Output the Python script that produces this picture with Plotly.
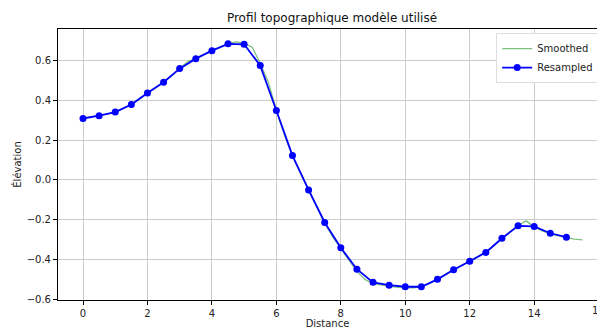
import plotly.graph_objects as go

# Smoothed profile (dense) and resampled profile (every 0.5)
smooth_x = [0, 0.25, 0.5, 0.75, 1.0, 1.25, 1.5, 1.75, 2.0, 2.25, 2.5, 2.75, 3.0, 3.25,
            3.5, 3.75, 4.0, 4.25, 4.5, 4.75, 5.0, 5.25, 5.5, 5.75, 6.0, 6.25, 6.5, 6.75,
            7.0, 7.25, 7.5, 7.75, 8.0, 8.25, 8.5, 8.75, 9.0, 9.25, 9.5, 9.75, 10.0, 10.25,
            10.5, 10.75, 11.0, 11.25, 11.5, 11.75, 12.0, 12.25, 12.5, 12.75, 13.0, 13.25,
            13.5, 13.75, 14.0, 14.25, 14.5, 14.75, 15.0, 15.25, 15.5]
smooth_y = [0.31, 0.316, 0.322, 0.33, 0.34, 0.357, 0.378, 0.405, 0.435, 0.462, 0.49, 0.522,
            0.56, 0.592, 0.61, 0.628, 0.648, 0.665, 0.683, 0.692, 0.686, 0.665, 0.585, 0.49,
            0.35, 0.225, 0.12, 0.035, -0.05, -0.135, -0.215, -0.285, -0.345, -0.402, -0.458,
            -0.498, -0.52, -0.527, -0.532, -0.538, -0.54, -0.54, -0.536, -0.518, -0.498,
            -0.473, -0.45, -0.428, -0.408, -0.385, -0.362, -0.33, -0.295, -0.26, -0.228,
            -0.205, -0.235, -0.255, -0.27, -0.28, -0.29, -0.297, -0.3]

res_x = [0, 0.5, 1.0, 1.5, 2.0, 2.5, 3.0, 3.5, 4.0, 4.5, 5.0, 5.5, 6.0, 6.5, 7.0, 7.5,
         8.0, 8.5, 9.0, 9.5, 10.0, 10.5, 11.0, 11.5, 12.0, 12.5, 13.0, 13.5, 14.0, 14.5, 15.0]
res_y = [0.308, 0.322, 0.34, 0.378, 0.436, 0.49, 0.558, 0.608, 0.648, 0.682, 0.68, 0.573,
         0.348, 0.122, -0.05, -0.213, -0.34, -0.447, -0.513, -0.527, -0.535, -0.535,
         -0.498, -0.45, -0.407, -0.363, -0.292, -0.23, -0.233, -0.267, -0.287]

x_range = [-0.776, 15.95]
y_range = [-0.6015, 0.7565]

fig = go.Figure()
fig.add_trace(go.Scatter(x=smooth_x, y=smooth_y, mode="lines", name="Smoothed",
                         line=dict(color="rgba(0,128,0,0.5)", width=1.3)))
fig.add_trace(go.Scatter(x=res_x, y=res_y, mode="lines+markers", name="Resampled",
                         line=dict(color="#0000ff", width=1.8),
                         marker=dict(color="#0000ff", size=7)))

axis_style = dict(showline=True, linecolor="black", linewidth=1, ticks="outside",
                  ticklen=4, tickcolor="black", showgrid=True, gridcolor="#cccccc",
                  gridwidth=1, zeroline=False, tickfont=dict(size=10, color="#222"))

fig.update_layout(
    width=597, height=329,
    margin=dict(l=58, r=0, t=29, b=29, autoexpand=False),
    paper_bgcolor="white", plot_bgcolor="white",
    font=dict(family="DejaVu Sans", color="#222"),
    title=dict(text="Profil topographique modèle utilisé", x=332 / 597, xref="container",
               xanchor="center", y=1 - 18 / 329, yanchor="middle",
               font=dict(size=12, color="#111")),
    xaxis=dict(range=x_range, dtick=2, mirror=True,
               title=dict(text="Distance", font=dict(size=10), standoff=2), **axis_style),
    yaxis=dict(range=y_range, dtick=0.2, tickformat=".1f",
               title=dict(text="Élévation", font=dict(size=10), standoff=3), **axis_style),
    legend=dict(x=0.813, y=0.985, xanchor="left", yanchor="top", bgcolor="white",
                bordercolor="#dddddd", borderwidth=1, font=dict(size=10),
                tracegroupgap=0, itemwidth=30),
    showlegend=True,
)

# tick "16" is cut by the right edge of the figure
fig.add_annotation(text="16", xref="paper", yref="paper",
                   x=(16 - x_range[0]) / (x_range[1] - x_range[0]), y=0,
                   xanchor="center", yanchor="top", yshift=-3,
                   showarrow=False, font=dict(size=10, color="#222"))

fig.write_html("out.html", config={"displayModeBar": False},
               post_script="document.body.style.margin='0';")
